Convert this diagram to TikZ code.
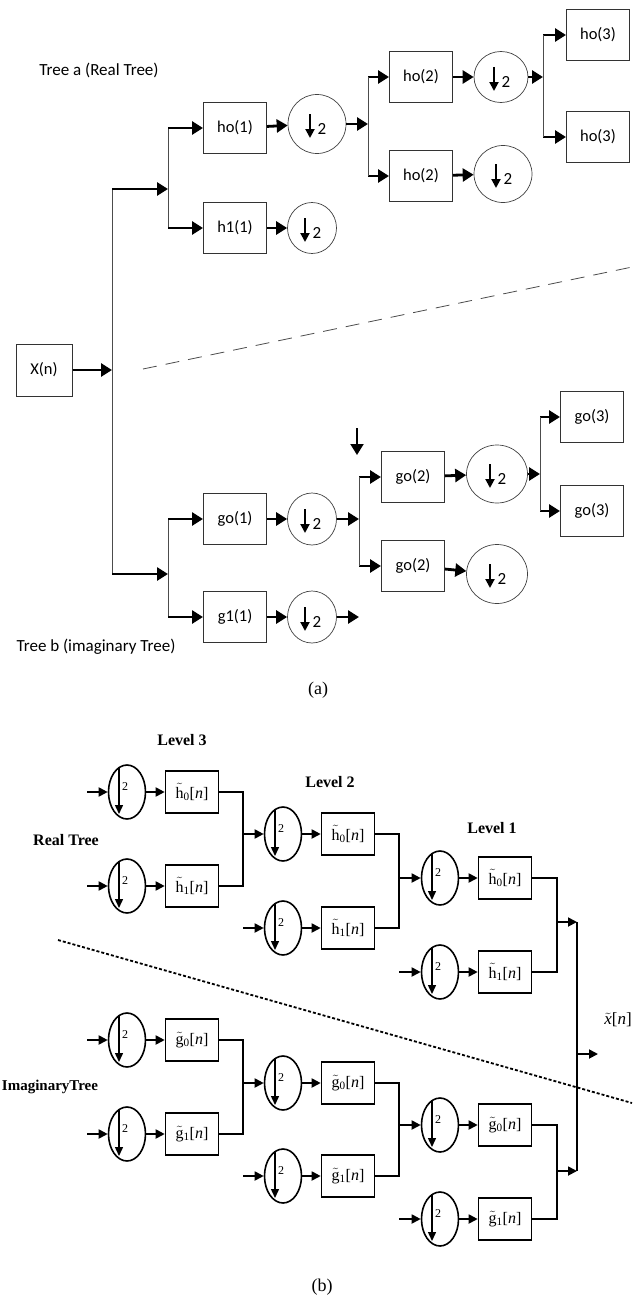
\documentclass[tikz,border=0pt]{standalone}
\usepackage{fontspec}
\setmainfont{Liberation Serif}
\newfontfamily\calib{Carlito}
\usetikzlibrary{arrows.meta,shapes.geometric}

\newcommand{\tl}[1]{\ensuremath{\tilde{\mathrm{#1}}}}

\tikzset{
  boxa/.style={draw, black!80, text=black, line width=1pt, minimum width=63, minimum height=51, inner sep=0pt, font=\calib\fontsize{16.5}{18}\selectfont},
  cira/.style={draw, ellipse, black!75, line width=0.7pt, minimum width=56, minimum height=56, inner sep=0pt},
  arra/.style={line width=2.8pt, -{Triangle[length=11pt,width=13pt]}},
  dna/.style={line width=2pt, -{Triangle[length=9pt,width=9pt]}},
  linea/.style={line width=0.9pt, black!70},
  boxb/.style={draw, line width=1.6pt, minimum width=53, minimum height=42, inner sep=0pt, font=\fontsize{16}{18}\selectfont},
  cirb/.style={draw, ellipse, line width=1.6pt, minimum width=37, minimum height=54, inner sep=0pt},
  arrb/.style={line width=1.8pt, -{Triangle[length=9pt,width=9pt]}},
  dnb/.style={line width=1.4pt, -{Triangle[length=9pt,width=8pt]}},
  lineb/.style={line width=1.6pt},
  lbl/.style={font=\bfseries\fontsize{16}{18}\selectfont},
}

\begin{document}
\begin{tikzpicture}[x=1pt,y=-1pt]
    \useasboundingbox (0,0) rectangle (637,1298);

    % (a) Analyse-Baum
    \node[font=\calib\fontsize{17}{19}\selectfont] (ta) at (99,70) {Tree a (Real Tree)};
    \node[font=\calib\fontsize{17}{19}\selectfont] (tb) at (96,647) {Tree b (imaginary Tree)};
    \node[boxa, minimum width=56, minimum height=52] (xn) at (44,370) {X(n)};

    \node[boxa] (h01) at (235,128) {ho(1)};
    \node[boxa] (h11) at (235,228) {h1(1)};
    \node[cira, minimum width=58, minimum height=59] (c01) at (317,124) {};
    \node[cira, minimum width=49, minimum height=51] (c11) at (312,228) {};
    \node[boxa] (h02a) at (421,77) {ho(2)};
    \node[boxa] (h02b) at (421,176) {ho(2)};
    \node[cira, minimum width=54, minimum height=51] (c02a) at (501,77) {};
    \node[cira, minimum width=58, minimum height=57] (c02b) at (503,174) {};
    \node[boxa] (h03a) at (598,35) {ho(3)};
    \node[boxa] (h03b) at (598,137) {ho(3)};

    \node[boxa] (g01) at (235,519) {go(1)};
    \node[boxa] (g11) at (235,617) {g1(1)};
    \node[cira, minimum width=49, minimum height=52] (cg01) at (312,519) {};
    \node[cira, minimum width=49, minimum height=52] (cg11) at (312,617) {};
    \node[boxa] (g02a) at (413,477) {go(2)};
    \node[boxa] (g02b) at (413,566) {go(2)};
    \node[cira, minimum width=61, minimum height=58] (cg02a) at (497,474) {};
    \node[cira, minimum width=61, minimum height=59] (cg02b) at (497,574) {};
    \node[boxa] (g03a) at (592,417) {go(3)};
    \node[boxa] (g03b) at (592,511) {go(3)};

    % Verzweigungen
    \coordinate (ja0) at (112,369);
    \coordinate (jt) at (112,189);
    \coordinate (jb) at (112,574);
    \coordinate (ja1) at (168,189);
    \coordinate (jb1) at (168,574);
    \coordinate (ja2) at (368,124);
    \coordinate (ja3) at (543,77);
    \coordinate (jb2) at (359,519);
    \coordinate (jb3) at (540,474);
    \coordinate (ob) at (359,617);
    \coordinate (s1) at (357,428);
    \coordinate (s2) at (357,455);

    \draw[arra] (xn.east) -- (xn.east -| ja0);
    \draw[linea] (jt) -- (jb);
    \draw[arra] (jt) -- (ja1);
    \draw[arra] (jb) -- (jb1);
    \draw[linea] (ja1 |- h01) -- (ja1 |- h11);
    \draw[linea] (jb1 |- g01) -- (jb1 |- g11);
    \foreach \s/\e in {ja1/h01, ja1/h11, jb1/g01, jb1/g11, ja2/h02a, ja2/h02b, jb2/g02a, jb2/g02b, ja3/h03a, ja3/h03b, jb3/g03a, jb3/g03b}
        \draw[arra] (\s |- \e) -- (\e);
    \foreach \s/\e in {h01/c01, h11/c11, h02a/c02a, h02b/c02b, g01/cg01, g11/cg11, g02a/cg02a, g02b/cg02b}
        \draw[arra] (\s) -- (\e);
    \draw[arra] (c01.east) -- (c01.east -| ja2);
    \draw[arra] (cg01.east) -- (cg01.east -| jb2);
    \draw[arra] (cg11.east) -- (ob);
    \draw[arra] (c02a.east) -- (c02a.east -| ja3);
    \draw[arra] (cg02a.east) -- (cg02a.east -| jb3);
    \draw[linea] (ja2 |- h02a) -- (ja2 |- h02b);
    \draw[linea] (jb2 |- g02a) -- (jb2 |- g02b);
    \draw[linea] (ja3 |- h03a) -- (ja3 |- h03b);
    \draw[linea] (jb3 |- g03a) -- (jb3 |- g03b);
    \draw[arra, line width=2pt] (s1) -- (s2);

    % Abwaertstastung
    \foreach \c in {c01,c11,c02a,c02b,cg01,cg11,cg02a,cg02b} {
        \draw[dna] ([shift={(-7,-10)}]\c.center) -- ([shift={(-7,14)}]\c.center);
        \node[font=\calib\fontsize{17}{19}\selectfont] (\c-n) at ([shift={(5,5)}]\c.center) {2};
    }

    \draw[black!70, line width=0.8pt, dash pattern=on 14pt off 9pt] (143,369) -- (637,266);
    \node[font=\fontsize{18}{20}\selectfont] (capa) at (318,690) {(a)};

    % (b) Synthese-Baum
    \node[lbl] (lv3) at (182,740) {Level 3};
    \node[lbl] (lv2) at (330,782) {Level 2};
    \node[lbl] (lv1) at (492,828) {Level 1};
    \node[lbl] (rt) at (66,840) {Real Tree};
    \node[lbl, font=\bfseries\fontsize{15}{17}\selectfont] (it) at (50,1087) {ImaginaryTree};

    \node[cirb] (r3a) at (127,792) {};
    \node[cirb] (r3b) at (127,886) {};
    \node[boxb] (hr3a) at (192,792) {\tl{h}\textsubscript{0}[\textit{n}]};
    \node[boxb] (hr3b) at (192,886) {\tl{h}\textsubscript{1}[\textit{n}]};
    \node[cirb] (r2a) at (283,834) {};
    \node[cirb] (r2b) at (283,928) {};
    \node[boxb] (hr2a) at (348,834) {\tl{h}\textsubscript{0}[\textit{n}]};
    \node[boxb] (hr2b) at (348,928) {\tl{h}\textsubscript{1}[\textit{n}]};
    \node[cirb] (r1a) at (440,878) {};
    \node[cirb] (r1b) at (440,972) {};
    \node[boxb] (hr1a) at (505,878) {\tl{h}\textsubscript{0}[\textit{n}]};
    \node[boxb] (hr1b) at (505,972) {\tl{h}\textsubscript{1}[\textit{n}]};

    \node[cirb] (i3a) at (127,1040) {};
    \node[cirb] (i3b) at (127,1134) {};
    \node[boxb] (gi3a) at (192,1040) {\tl{g}\textsubscript{0}[\textit{n}]};
    \node[boxb] (gi3b) at (192,1134) {\tl{g}\textsubscript{1}[\textit{n}]};
    \node[cirb] (i2a) at (283,1083) {};
    \node[cirb] (i2b) at (283,1176) {};
    \node[boxb] (gi2a) at (348,1083) {\tl{g}\textsubscript{0}[\textit{n}]};
    \node[boxb] (gi2b) at (348,1176) {\tl{g}\textsubscript{1}[\textit{n}]};
    \node[cirb] (i1a) at (440,1125) {};
    \node[cirb] (i1b) at (440,1219) {};
    \node[boxb] (gi1a) at (505,1125) {\tl{g}\textsubscript{0}[\textit{n}]};
    \node[boxb] (gi1b) at (505,1219) {\tl{g}\textsubscript{1}[\textit{n}]};

    \coordinate (e3) at (87,0);
    \coordinate (k3) at (243,0);
    \coordinate (k2) at (399,0);
    \coordinate (k1) at (557,0);
    \coordinate (or) at (577,922);
    \coordinate (oi) at (577,1171);
    \coordinate (xo) at (598,1054);

    \foreach \c in {r3a,r3b,i3a,i3b}
        \draw[arrb] (e3 |- \c) -- (\c);
    \foreach \c in {r2a,r2b,i2a,i2b}
        \draw[arrb] (k3 |- \c) -- (\c);
    \foreach \c in {r1a,r1b,i1a,i1b}
        \draw[arrb] (k2 |- \c) -- (\c);
    \foreach \c/\b in {r3a/hr3a, r3b/hr3b, r2a/hr2a, r2b/hr2b, r1a/hr1a, r1b/hr1b, i3a/gi3a, i3b/gi3b, i2a/gi2a, i2b/gi2b, i1a/gi1a, i1b/gi1b}
        \draw[arrb] (\c) -- (\b);
    \draw[lineb] (hr3a.east) -| (k3 |- hr3b) -- (hr3b.east);
    \draw[lineb] (hr2a.east) -| (k2 |- hr2b) -- (hr2b.east);
    \draw[lineb] (hr1a.east) -| (k1 |- hr1b) -- (hr1b.east);
    \draw[lineb] (gi3a.east) -| (k3 |- gi3b) -- (gi3b.east);
    \draw[lineb] (gi2a.east) -| (k2 |- gi2b) -- (gi2b.east);
    \draw[lineb] (gi1a.east) -| (k1 |- gi1b) -- (gi1b.east);
    \draw[arrb] (k1 |- or) -- (or);
    \draw[arrb] (k1 |- oi) -- (oi);
    \draw[lineb] (or) -- (oi);
    \draw[arrb] (or |- xo) -- (xo);
    \node[font=\fontsize{17}{19}\selectfont] (xt) at (618,1020) {\ensuremath{\tilde{\mathit{x}}}[\textit{n}]};

    \foreach \c in {r3a,r3b,r2a,r2b,r1a,r1b,i3a,i3b,i2a,i2b,i1a,i1b} {
        \draw[dnb] ([shift={(-8,-25)}]\c.center) -- ([shift={(-8,22)}]\c.center);
        \node[font=\fontsize{12}{13}\selectfont, inner sep=0pt] (\c-n) at ([shift={(-2,-5)}]\c.center) {2};
    }

    \draw[line width=1.8pt, dash pattern=on 3pt off 2pt] (58,940) -- (632,1103);
    \node[font=\fontsize{18}{20}\selectfont] (capb) at (322,1287) {(b)};
\end{tikzpicture}
\end{document}
